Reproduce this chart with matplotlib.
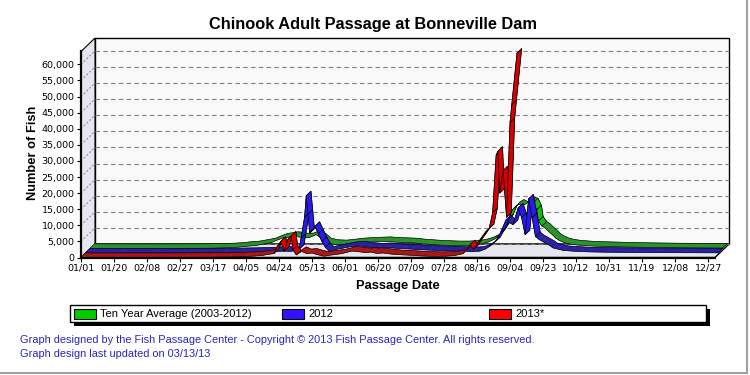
import numpy as np
import matplotlib
matplotlib.use("Agg")
import matplotlib.pyplot as plt
from matplotlib.patches import Polygon, Rectangle
from matplotlib.lines import Line2D
from matplotlib.ticker import FuncFormatter

# ---------------- data ----------------
title = "Chinook Adult Passage at Bonneville Dam"
x_label = "Passage Date"
y_label = "Number of Fish"
series_names = ["Ten Year Average (2003-2012)", "2012", "2013*"]

tick_days = [0, 19, 38, 57, 76, 95, 114, 133, 152, 171, 190, 209, 228, 247, 266, 285, 304, 323, 342, 361]
tick_labels = ["01/01", "01/20", "02/08", "02/27", "03/17", "04/05", "04/24", "05/13", "06/01", "06/20",
               "07/09", "07/28", "08/16", "09/04", "09/23", "10/12", "10/31", "11/19", "12/08", "12/27"]
y_ticks = [0, 5000, 10000, 15000, 20000, 25000, 30000, 35000, 40000, 45000, 50000, 55000, 60000]

# day of year (0 = Jan 1) and daily counts
avg_days = [0, 15, 30, 45, 60, 70, 80, 85, 90, 95, 100, 104, 108, 111, 114, 117, 120, 123, 126, 130,
            133, 136, 140, 145, 150, 155, 160, 165, 170, 175, 180, 185, 190, 195, 200, 205, 210, 215,
            220, 225, 229, 233, 236, 239, 241, 243, 245, 247, 249, 251, 253, 255, 257, 258, 260, 262,
            264, 266, 268, 270, 273, 276, 280, 285, 290, 300, 310, 320, 335, 350, 364]
avg_vals = [60, 40, 30, 40, 60, 100, 250, 400, 700, 900, 1400, 1800, 2700, 3300, 3500, 3800, 3600, 3300, 3400, 4300,
            3200, 1800, 1300, 1200, 1500, 1800, 2000, 2100, 2200, 2000, 1900, 1800, 1500, 1300, 1100, 1000, 900, 900,
            1000, 1400, 2000, 3000, 4500, 7000, 9500, 12000, 13200, 13800, 13200, 14000, 14600, 14200, 12000, 8500, 7000, 6300,
            5200, 4300, 3200, 2500, 1800, 1400, 1100, 900, 750, 600, 450, 350, 250, 200, 150]

y2012_days = [0, 20, 40, 60, 80, 90, 100, 105, 110, 115, 118, 121, 123, 124, 126, 127, 128, 129, 130, 132,
              134, 136, 138, 140, 142, 144, 148, 153, 158, 163, 168, 173, 178, 183, 188, 193, 198, 203, 208,
              213, 218, 223, 227, 230, 233, 236, 239, 242, 244, 246, 249, 251, 253, 255, 257, 259, 261, 263,
              265, 267, 269, 272, 275, 280, 285, 290, 300, 315, 330, 345, 364]
y2012_vals = [30, 20, 20, 30, 80, 150, 250, 350, 500, 600, 500, 800, 1200, 4600, 11000, 17800, 12000, 6200, 7000, 8300,
              6000, 3600, 1800, 600, 800, 1100, 1500, 2000, 2200, 1800, 1600, 1700, 1500, 1300, 1200, 1000, 900, 800, 700,
              600, 500, 450, 600, 1200, 2200, 3600, 6500, 10300, 9400, 8800, 14000, 11000, 5700, 16800, 11000, 5100, 4200, 3600,
              3000, 2400, 1600, 1200, 800, 600, 450, 350, 250, 180, 120, 80, 50]

y2013_days = [0, 20, 40, 60, 75, 85, 95, 100, 105, 108, 111, 113, 115, 117, 119, 121, 122, 124, 127, 130,
              133, 136, 140, 143, 146, 150, 153, 156, 160, 164, 167, 170, 174, 178, 182, 186, 190, 195, 200,
              205, 210, 215, 220, 224, 226, 229, 231, 233, 235, 237, 239, 240, 241, 243, 245, 247, 248, 251]
y2013_vals = [20, 15, 20, 40, 80, 150, 300, 450, 700, 1000, 1200, 3400, 5000, 1900, 5500, 6700, 2400, 800, 1900, 1200,
              1400, 900, 400, 700, 900, 1200, 1600, 2000, 1800, 1500, 1700, 1300, 1400, 1100, 900, 800, 700, 500, 400,
              350, 400, 600, 1200, 4000, 2500, 5000, 6500, 8000, 9000, 14000, 31800, 33000, 20000, 27000, 12500, 42000, 47500, 63500]

series_days = [avg_days, y2012_days, y2013_days]
series_vals = [avg_vals, y2012_vals, y2013_vals]
series_colors = ["#10c010", "#2a1aee", "#d80000"]     # steep (side) faces
series_flat = ["#2a922a", "#2a20a6", "#a81616"]       # top faces (dithered look)
series_slot = [2, 1, 0]   # depth slot: 0 = front

# ---------------- layout ----------------
W, H = 750, 375
fig = plt.figure(figsize=(7.5, 3.75), dpi=100)
fig.patch.set_facecolor("white")

def fx(px):
    return px / W

def fy(py):
    return 1 - py / H

L, R, T, B = 81, 715, 51.5, 257.5
ax = fig.add_axes([fx(L), fy(B), fx(R - L), (B - T) / H])
XMAX, YMAX = 365, 64000
ax.set_xlim(0, XMAX)
ax.set_ylim(0, YMAX)
ax.patch.set_alpha(0)

PXD = (R - L) / XMAX          # pixels per day
PYV = (B - T) / YMAX          # pixels per fish
DEPTH_X, DEPTH_Y = 14, 13.5   # depth in pixels
DDX = DEPTH_X / PXD
DDY = DEPTH_Y / PYV

wall_col = "#e6e6ee"
ax.add_patch(Rectangle((DDX, DDY), XMAX, YMAX, facecolor="#f9f9f9", edgecolor="black",
                       lw=1.0, clip_on=False, zorder=0.5))
ax.add_patch(Polygon([(0, 0), (DDX, DDY), (DDX, YMAX + DDY), (0, YMAX)], closed=True,
                     facecolor=wall_col, edgecolor="black", lw=0.8, clip_on=False, zorder=0.6))
ax.add_patch(Polygon([(0, 0), (XMAX, 0), (XMAX + DDX, DDY), (DDX, DDY)], closed=True,
                     facecolor=wall_col, edgecolor="black", lw=1.0, clip_on=False, zorder=0.6))

for v in y_ticks:
    ax.add_line(Line2D([DDX, XMAX + DDX], [v + DDY, v + DDY], color="#808080", lw=0.8,
                       dashes=(4, 3), clip_on=False, zorder=0.8))
    if v > 0:
        ax.add_line(Line2D([0, DDX], [v, v + DDY], color="#808080", lw=0.7,
                           dashes=(2, 2), clip_on=False, zorder=0.8))

# ribbons
for days, vals, col, flat, slot in zip(series_days, series_vals, series_colors, series_flat, series_slot):
    d = np.asarray(days, float)
    v = np.asarray(vals, float)
    o0, o1 = slot / 3.0, (slot + 1) / 3.0
    x0, y0 = d + o0 * DDX, v + o0 * DDY
    x1, y1 = d + o1 * DDX, v + o1 * DDY
    z = 2 + (2 - slot)
    for k in range(len(d) - 1):
        quad = [(x0[k], y0[k]), (x0[k + 1], y0[k + 1]), (x1[k + 1], y1[k + 1]), (x1[k], y1[k])]
        slope = abs((v[k + 1] - v[k]) * PYV / ((d[k + 1] - d[k]) * PXD))
        if slope > 1.3:
            ax.add_patch(Polygon(quad, closed=True, facecolor=col, edgecolor="black",
                                 lw=0.5, clip_on=False, zorder=z + 0.2))
        else:
            ax.add_patch(Polygon(quad, closed=True, facecolor=flat, edgecolor=flat,
                                 lw=0.3, clip_on=False, zorder=z))
    ax.add_line(Line2D(x0, y0, color="black", lw=0.45, clip_on=False, zorder=z + 0.1))
    ax.add_line(Line2D(x1, y1, color="black", lw=0.45, clip_on=False, zorder=z + 0.1))
    ax.add_line(Line2D([x0[-1], x1[-1]], [y0[-1], y1[-1]], color="black", lw=0.5,
                       clip_on=False, zorder=z + 0.3))

for s in ["top", "right"]:
    ax.spines[s].set_visible(False)
for s in ["left", "bottom"]:
    ax.spines[s].set_linewidth(1.6)
    ax.spines[s].set_zorder(10)
ax.set_yticks(y_ticks)
ax.yaxis.set_major_formatter(FuncFormatter(lambda val, pos: f"{int(val):,}"))
ax.set_xticks(tick_days)
ax.set_xticklabels(tick_labels)
ax.tick_params(axis="both", direction="out", length=3, width=0.8, labelsize=6.8, pad=1.5,
               labelfontfamily="DejaVu Sans")

fig.text(fx(373), fy(25), title, ha="center", va="center", fontsize=11.8,
         fontweight="bold", family="Liberation Sans")
fig.text(fx(33), fy(153), y_label, ha="center", va="center", rotation=90, fontsize=9.3,
         fontweight="bold", family="Liberation Sans")
fig.text(fx(398), fy(286), x_label, ha="center", va="center", fontsize=9.3,
         fontweight="bold", family="Liberation Sans")

# legend
fig.add_artist(Rectangle((fx(74), fy(326)), fx(636), 17 / H, facecolor="black",
                         edgecolor="none", transform=fig.transFigure))
fig.add_artist(Rectangle((fx(70), fy(322)), fx(636), 17 / H, facecolor="white",
                         edgecolor="black", lw=1.0, transform=fig.transFigure))
leg_sw = [74, 282, 489]
leg_cols = ["#00cc00", "#3311ff", "#ff0000"]
for xs, name, col in zip(leg_sw, series_names, leg_cols):
    fig.add_artist(Rectangle((fx(xs), fy(319)), fx(22), 10 / H, facecolor=col,
                             edgecolor="black", lw=0.8, transform=fig.transFigure))
    fig.text(fx(xs + 26), fy(314), name, ha="left", va="center", fontsize=8.0,
             family="Liberation Sans")

fig.text(fx(20), fy(340), "Graph designed by the Fish Passage Center - Copyright \u00a9 2013 Fish Passage Center. All rights reserved.",
         ha="left", va="center", fontsize=7.9, color="#2626c0", family="Liberation Sans")
fig.text(fx(20), fy(354), "Graph design last updated on 03/13/13",
         ha="left", va="center", fontsize=7.9, color="#2626c0", family="Liberation Sans")

fig.add_artist(Line2D([fx(746.5), fx(746.5)], [fy(0), fy(372.5)], color="#a0a0a0", lw=1.5,
                      transform=fig.transFigure))
fig.add_artist(Line2D([fx(0), fx(746.5)], [fy(372.5), fy(372.5)], color="#a0a0a0", lw=1.5,
                      transform=fig.transFigure))

fig.savefig("out.png", dpi=100)
